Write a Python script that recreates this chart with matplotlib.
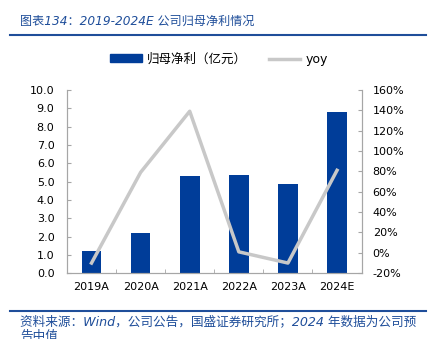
import numpy as np
import matplotlib
matplotlib.use('Agg')
import matplotlib.pyplot as plt
from matplotlib.lines import Line2D
from matplotlib.patches import Patch
from matplotlib.ticker import FuncFormatter

plt.rcParams['font.family'] = ['DejaVu Sans', 'Noto Sans CJK SC']

years = ['2019A', '2020A', '2021A', '2022A', '2023A', '2024E']
profit = [1.23, 2.21, 5.28, 5.33, 4.84, 8.78]   # 亿元
yoy = [-0.10, 0.79, 1.39, 0.01, -0.10, 0.81]

bar_color = '#003D99'
line_color = '#C8C8C8'
title_color = '#1F4E9A'
axis_color = '#A6A6A6'

fig = plt.figure(figsize=(4.32, 3.39), dpi=100)
ax = fig.add_axes([0.155, 0.194, 0.682, 0.541])
ax2 = ax.twinx()

x = np.arange(len(years))
ax.bar(x, profit, width=0.4, color=bar_color, zorder=2)
ax2.plot(x, yoy, color=line_color, linewidth=2.5, zorder=3)

ax.set_xlim(-0.5, len(years) - 0.5)
ax.set_ylim(0, 10)
ax.set_yticks(np.arange(0, 10.01, 1.0))
ax.yaxis.set_major_formatter(FuncFormatter(lambda v, p: '%.1f' % v))
ax2.set_ylim(-0.2, 1.6)
ax2.set_yticks(np.arange(-0.2, 1.61, 0.2))
ax2.yaxis.set_major_formatter(FuncFormatter(lambda v, p: '%d%%' % round(v * 100)))

ax.set_xticks(x)
ax.set_xticklabels(years)
ax.set_xticks(np.arange(0.5, len(years) - 1, 1.0), minor=True)
ax.tick_params(axis='x', which='major', length=0, labelsize=8, pad=6)
ax.tick_params(axis='x', which='minor', direction='in', length=3, color=axis_color)
ax.tick_params(axis='y', direction='in', length=3, color=axis_color, labelsize=8, pad=9)
ax2.tick_params(axis='y', direction='in', length=3, color=axis_color, labelsize=8, pad=8)

for a in (ax, ax2):
    a.spines['top'].set_visible(False)
    for s in ('left', 'right', 'bottom'):
        a.spines[s].set_color(axis_color)
        a.spines[s].set_linewidth(0.8)

handles = [Patch(color=bar_color), Line2D([], [], color=line_color, linewidth=2.5)]
fig.legend(handles, ['归母净利（亿元）', 'yoy'], loc='center', bbox_to_anchor=(0.507, 0.825),
           ncol=2, frameon=False, fontsize=9, handlelength=2.5, handleheight=0.6,
           columnspacing=1.8, handletextpad=0.4)

fig.text(0.046, 0.938, '图表134：2019-2024E 公司归母净利情况', color=title_color,
         fontsize=8.7, style='italic', ha='left', va='center')
fig.add_artist(Line2D([0.023, 0.986], [0.897, 0.897], color=title_color, linewidth=1.5))
fig.add_artist(Line2D([0.023, 0.986], [0.083, 0.083], color=title_color, linewidth=1.5))
fig.text(0.046, 0.05, '资料来源：Wind，公司公告，国盛证券研究所；2024 年数据为公司预',
         color=title_color, fontsize=9.1, style='italic', ha='left', va='center')
fig.text(0.046, 0.008, '告中值', color=title_color, fontsize=9.1, style='italic',
         ha='left', va='center')

fig.savefig('out.png', dpi=100)
